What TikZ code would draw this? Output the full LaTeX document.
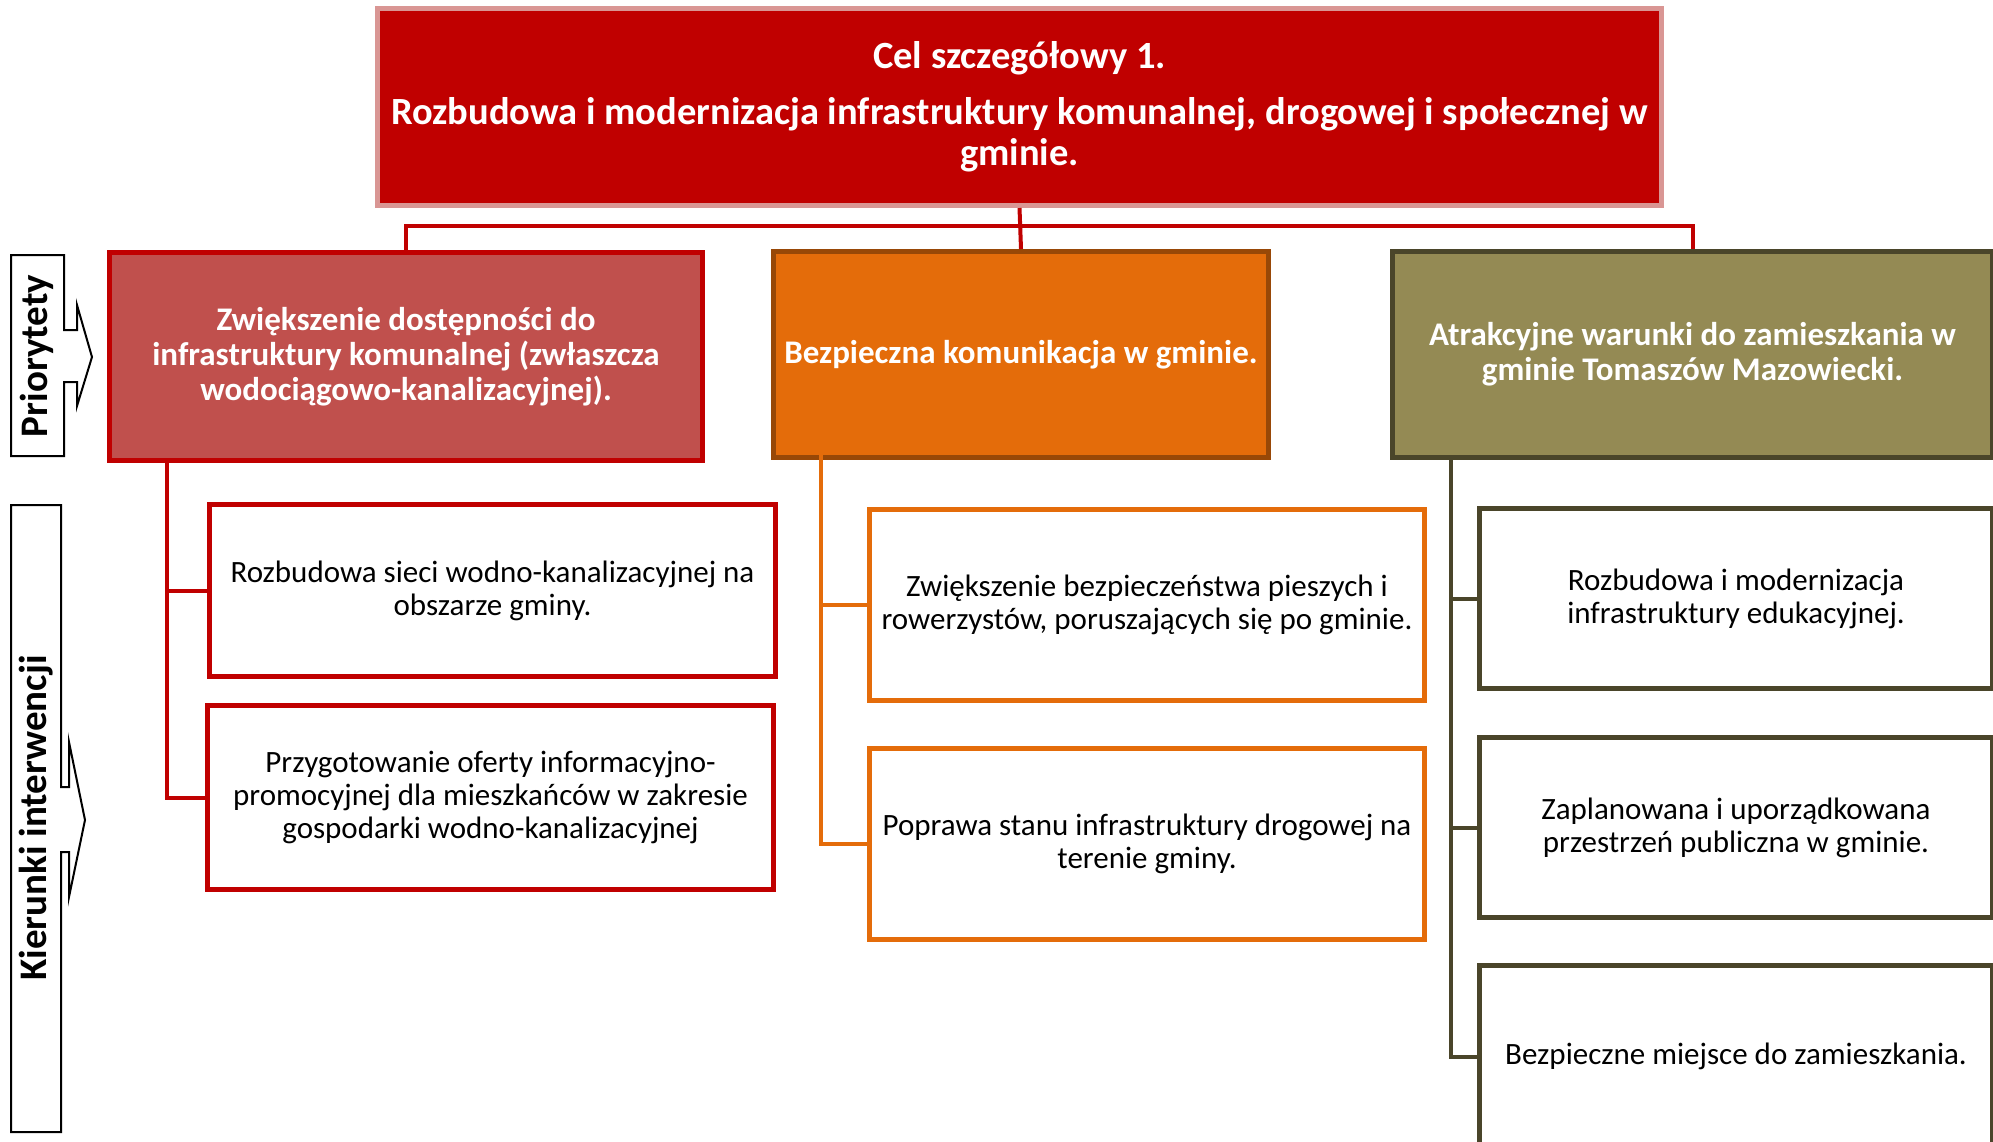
\documentclass[tikz,border=0pt]{standalone}
\usepackage{fontspec}
\setmainfont{Carlito}
\definecolor{topRed}{HTML}{C00000}
\definecolor{topBorder}{HTML}{D99694}
\definecolor{prRed}{HTML}{C0504D}
\definecolor{prOrange}{HTML}{E46C0A}
\definecolor{prOrangeB}{HTML}{984807}
\definecolor{prOlive}{HTML}{948A54}
\definecolor{prOliveB}{HTML}{4A452A}
\begin{document}
\begin{tikzpicture}[x=1pt,y=-1pt,
  box/.style={draw, line width=5pt, anchor=north west, inner sep=0pt, align=center},
  prio/.style={box, text=white, font=\bfseries\fontsize{33}{35}\selectfont},
  child/.style={box, fill=white, text=black, font=\fontsize{31}{33}\selectfont},
  conn/.style={line width=4pt},
  callout/.style={draw=black, line width=2pt, fill=white, line join=miter},
  sidelabel/.style={rotate=90, font=\bfseries\fontsize{39}{41}\selectfont, inner sep=0pt}
]
\clip (0,0) rectangle (1993,1142);
\fill[white] (0,0) rectangle (1993,1142);

% top goal
\node[box, draw=topBorder, fill=topRed, text=white, minimum width=1284, minimum height=197,
  font=\bfseries\fontsize{38.5}{41}\selectfont] (top) at (375,6)
  {Cel szczegółowy 1.\\[15pt]Rozbudowa i modernizacja infrastruktury komunalnej, drogowej i społecznej w\\gminie.};

% priorities
\node[prio, draw=topRed, fill=prRed, minimum width=593, minimum height=208] (p1) at (107,250)
  {Zwiększenie dostępności do\\infrastruktury komunalnej (zwłaszcza\\wodociągowo-kanalizacyjnej).};
\node[prio, draw=prOrangeB, fill=prOrange, minimum width=495, minimum height=206] (p2) at (771,249)
  {Bezpieczna komunikacja w gminie.};
\node[prio, draw=prOliveB, fill=prOlive, minimum width=600, minimum height=206] (p3) at (1390,249)
  {Atrakcyjne warunki do zamieszkania w\\gminie Tomaszów Mazowiecki.};

% children
\node[child, draw=topRed, minimum width=566, minimum height=172] (c11) at (207,502)
  {Rozbudowa sieci wodno-kanalizacyjnej na\\obszarze gminy.};
\node[child, draw=topRed, minimum width=566, minimum height=184] (c12) at (205,703)
  {Przygotowanie oferty informacyjno-\\promocyjnej dla mieszkańców w zakresie\\gospodarki wodno-kanalizacyjnej};
\node[child, draw=prOrange, minimum width=555, minimum height=191] (c21) at (867,507)
  {Zwiększenie bezpieczeństwa pieszych i\\rowerzystów, poruszających się po gminie.};
\node[child, draw=prOrange, minimum width=555, minimum height=191] (c22) at (867,746)
  {Poprawa stanu infrastruktury drogowej na\\terenie gminy.};
\node[child, draw=prOliveB, minimum width=513, minimum height=180] (c31) at (1477,506)
  {Rozbudowa i modernizacja\\infrastruktury edukacyjnej.};
\node[child, draw=prOliveB, minimum width=513, minimum height=180] (c32) at (1477,735)
  {Zaplanowana i uporządkowana\\przestrzeń publiczna w gminie.};
\node[child, draw=prOliveB, minimum width=513, minimum height=182] (c33) at (1477,963)
  {Bezpieczne miejsce do zamieszkania.};

% top connectors
\coordinate (hub) at (1017,226);
\draw[conn, topRed] (top.south) -- (p2.north);
\draw[conn, topRed] (p1.north) |- (hub) -| (p3.north);

% left tree
\coordinate (lt) at (167,458);
\draw[conn, topRed] (lt) |- (c12.west);
\draw[conn, topRed] (lt |- c11.west) -- (c11.west);
% middle tree
\coordinate (mt) at (821,455);
\draw[conn, prOrange] (mt) |- (c22.west);
\draw[conn, prOrange] (mt |- c21.west) -- (c21.west);
% right tree
\coordinate (rt) at (1451,455);
\draw[conn, prOliveB] (rt) |- (c33.west);
\draw[conn, prOliveB] (rt |- c31.west) -- (c31.west);
\draw[conn, prOliveB] (rt |- c32.west) -- (c32.west);

% side labels
\draw[callout] (11,255) -- (64,255) -- (64,330) -- (77,330) -- (77,305) -- (92,357)
  -- (77,406) -- (77,382) -- (64,382) -- (64,456) -- (11,456) -- cycle;
\node[sidelabel] (lab1) at (37,356) {Priorytety};
\draw[callout] (11,505) -- (61,505) -- (61,787) -- (69,787) -- (69,742) -- (85,820)
  -- (69,897) -- (69,852) -- (61,852) -- (61,1132) -- (11,1132) -- cycle;
\node[sidelabel] (lab2) at (36,818) {Kierunki interwencji};
\end{tikzpicture}
\end{document}
